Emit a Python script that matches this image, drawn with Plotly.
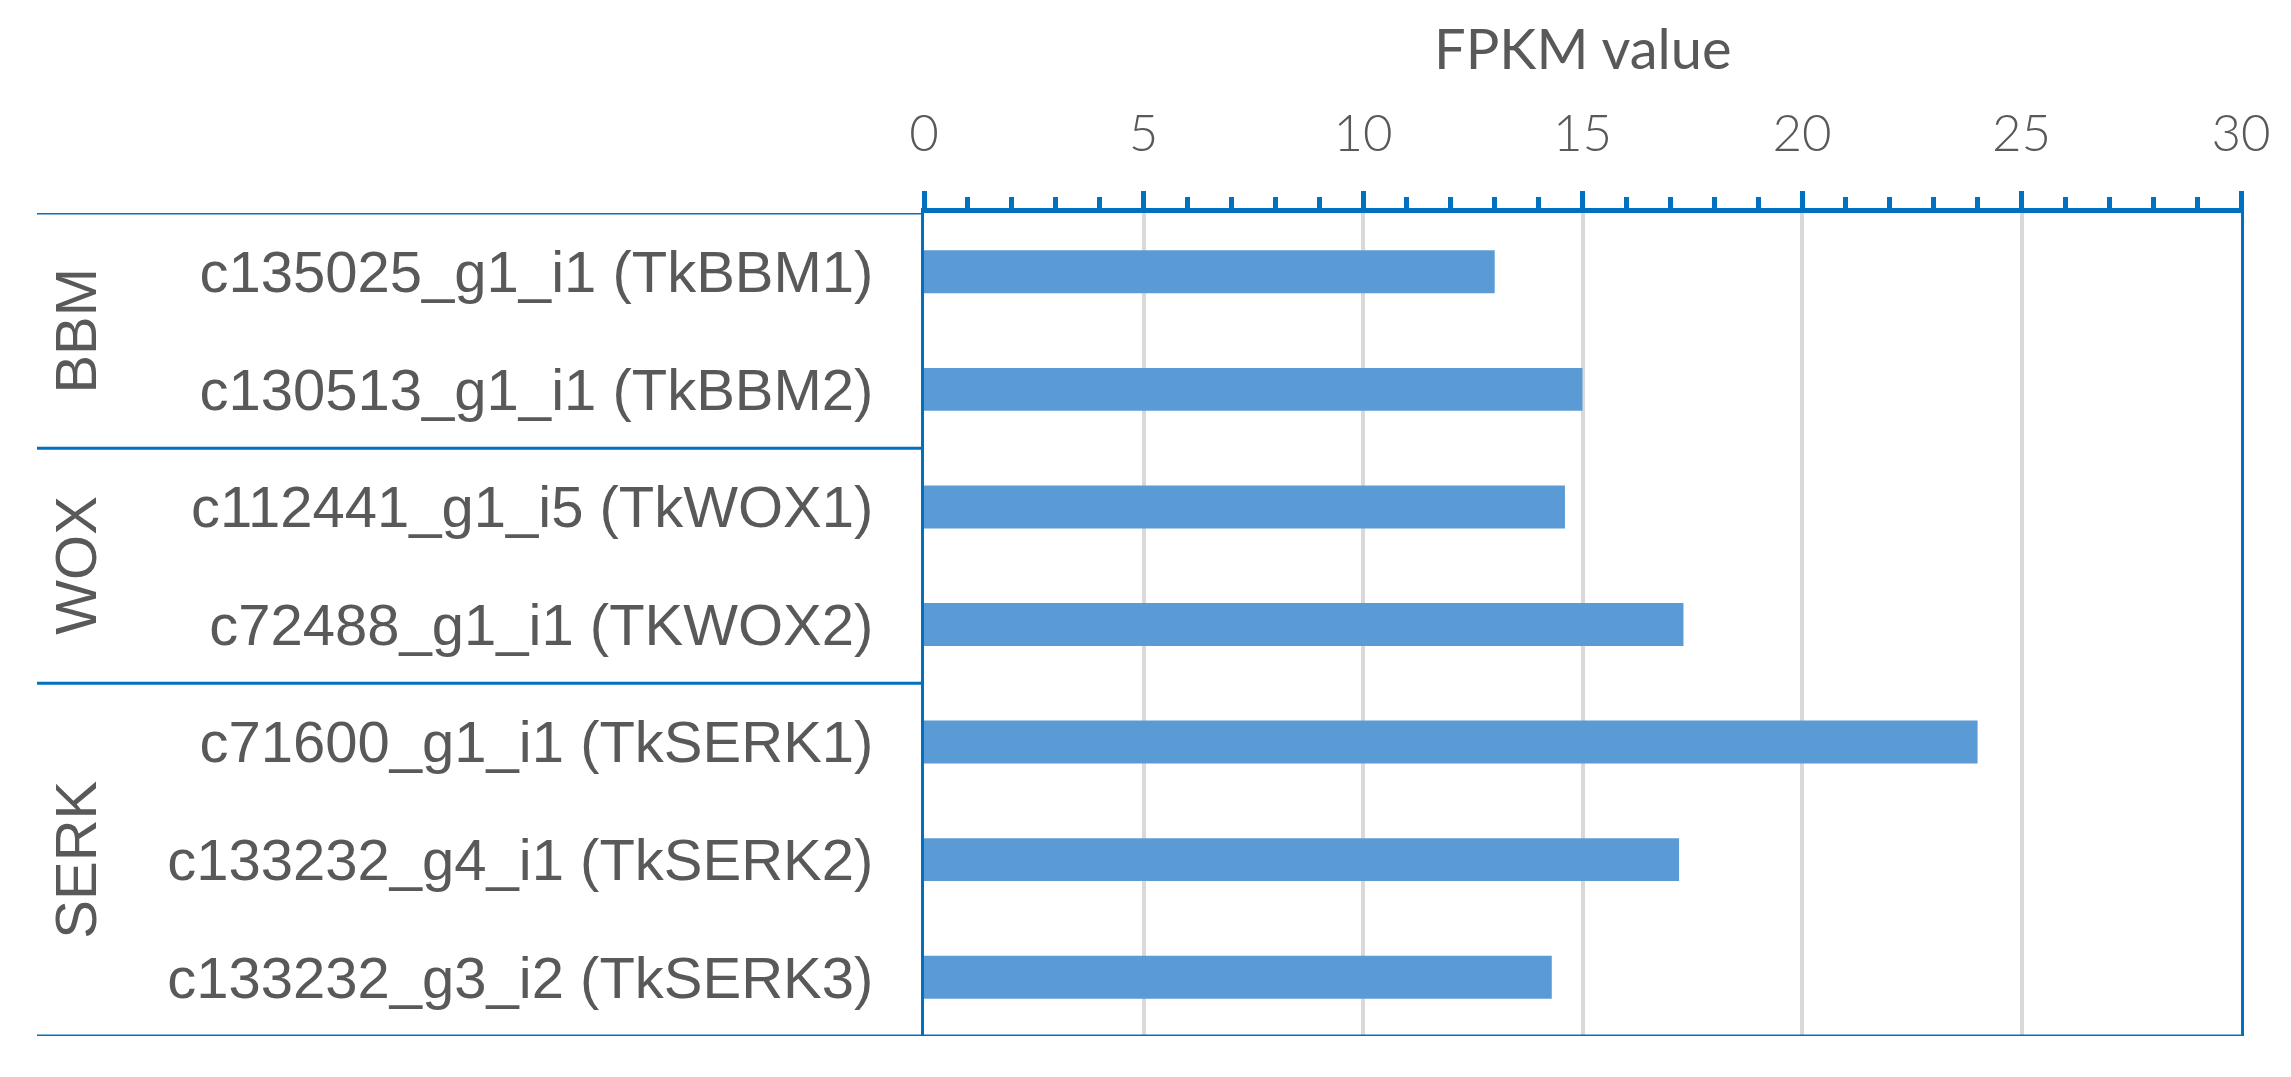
import plotly.graph_objects as go

# ---- data ----
genes = [
    "c135025_g1_i1 (TkBBM1)",
    "c130513_g1_i1 (TkBBM2)",
    "c112441_g1_i5 (TkWOX1)",
    "c72488_g1_i1 (TKWOX2)",
    "c71600_g1_i1 (TkSERK1)",
    "c133232_g4_i1 (TkSERK2)",
    "c133232_g3_i2 (TkSERK3)",
]
fpkm = [13.0, 15.0, 14.6, 17.3, 24.0, 17.2, 14.3]
groups = ["BBM", "WOX", "SERK"]
group_sizes = [2, 2, 3]
x_ticks = [0, 5, 10, 15, 20, 25, 30]
x_title = "FPKM value"

# ---- styling ----
W, H = 2291, 1077
BLUE = "#0070C0"
BAR = "#5B9BD5"
GREY_TXT = "#595959"
GRID = "#D9D9D9"
x_left_px, x_right_px = 924, 2241
y_top_px, y_bot_px = 213, 1036
dom_x = [x_left_px / W, x_right_px / W]
dom_y = [1 - y_bot_px / H, 1 - y_top_px / H]
table_left = 37 / W

fig = go.Figure()
fig.add_trace(go.Bar(
    x=fpkm, y=genes, orientation="h",
    marker=dict(color=BAR, line=dict(width=0)),
    width=0.365, showlegend=False,
))

n = len(genes)
fig.update_layout(
    width=W, height=H,
    margin=dict(l=0, r=0, t=0, b=0),
    paper_bgcolor="white", plot_bgcolor="white",
    xaxis=dict(
        domain=dom_x, side="top", range=[x_ticks[0], x_ticks[-1]],
        tickvals=x_ticks, ticktext=[str(v) for v in x_ticks],
        ticks="outside", ticklen=17, tickwidth=5, tickcolor=BLUE,
        minor=dict(dtick=1, ticks="outside", ticklen=11, tickwidth=5,
                   tickcolor=BLUE, showgrid=False),
        showline=True, linecolor=BLUE, linewidth=5,
        showgrid=True, gridcolor=GRID, gridwidth=4,
        zeroline=False,
        tickfont=dict(family="Lato", size=51, color=GREY_TXT, weight=300),
        ticklabelstandoff=20,
        automargin=False, fixedrange=True,
    ),
    yaxis=dict(
        domain=dom_y, type="category",
        categoryorder="array", categoryarray=genes,
        range=[n - 0.5, -0.5],
        showline=True, linecolor=BLUE, linewidth=3, mirror=True,
        showgrid=False, zeroline=False, ticks="",
        tickfont=dict(family="Liberation Sans, Arial", size=58, color=GREY_TXT),
        ticklabelstandoff=36,
        automargin=False, fixedrange=True,
    ),
    bargap=0.6,
)

# axis title
fig.add_annotation(
    x=(x_ticks[0] + x_ticks[-1]) / 2, xref="x",
    y=1 - 48 / H, yref="paper",
    text=x_title, showarrow=False,
    font=dict(family="Lato", size=56, color=GREY_TXT),
    xanchor="center", yanchor="middle",
)

# group separators and group labels
shapes = []
start = 0
shapes.append(dict(type="line", xref="paper", yref="y",
                   x0=table_left, x1=dom_x[0], y0=-0.5, y1=-0.5,
                   line=dict(color=BLUE, width=3)))
for g, s in zip(groups, group_sizes):
    end = start + s
    b = end - 0.5
    x1 = dom_x[1] if end == n else dom_x[0]
    shapes.append(dict(type="line", xref="paper", yref="y",
                       x0=table_left, x1=x1, y0=b, y1=b,
                       line=dict(color=BLUE, width=3)))
    fig.add_annotation(
        x=76 / W, xref="paper", y=(start + end - 1) / 2, yref="y",
        text=g, textangle=-90, showarrow=False,
        font=dict(family="Liberation Sans, Arial", size=58, color=GREY_TXT),
        xanchor="center", yanchor="middle",
    )
    start = end
fig.update_layout(shapes=shapes)

fig.write_html(
    "out.html",
    config={"displayModeBar": False},
    post_script="document.body.style.margin='0';document.body.style.overflow='hidden';",
)
